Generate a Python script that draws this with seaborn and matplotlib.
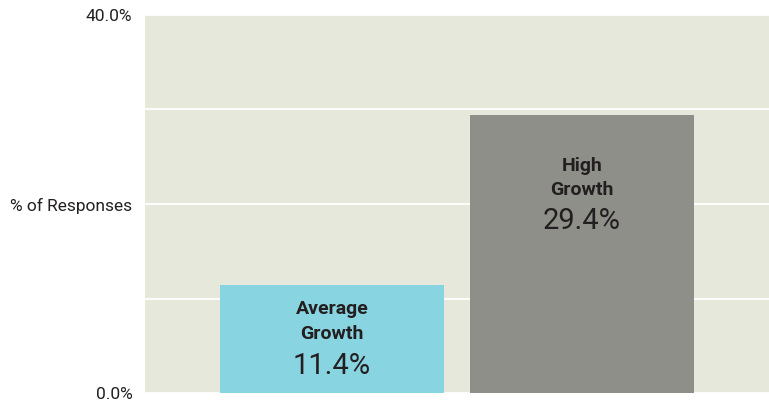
import numpy as np
import pandas as pd
import matplotlib
matplotlib.use("Agg")
import matplotlib.pyplot as plt
import seaborn as sns

# data
groups = ["Average\nGrowth", "High\nGrowth"]
shares = [11.4, 29.4]
bar_colors = ["#88d4e1", "#8f8f89"]
tick_values = [0, 10, 20, 30, 40]
tick_labels = ["0.0%", "", "% of Responses", "", "40.0%"]

df = pd.DataFrame({"group": groups, "share": shares})

sns.set_theme(style="white")
plt.rcParams["font.family"] = ["Roboto", "DejaVu Sans"]

fig, ax = plt.subplots(figsize=(7.69, 4.08), dpi=100)
fig.subplots_adjust(left=145 / 769, right=1.0, top=1 - 15 / 408, bottom=1 - 393 / 408)

ax.set_facecolor("#e7e8dc")
sns.barplot(data=df, x="group", y="share", hue="group", palette=bar_colors,
            saturation=1, width=0.896, legend=False, ax=ax, zorder=3)
for patch in ax.patches:
    patch.set_linewidth(0)

# labels inside the bars (offsets in points below the bar top)
name_drop = [26, 45]
value_drop = [58, 76]
for i, (name, val) in enumerate(zip(groups, shares)):
    ax.annotate(name, xy=(i, val), xytext=(0, -name_drop[i]), textcoords="offset points",
                ha="center", va="center", fontsize=14, fontweight="bold",
                color="#231f20", linespacing=1.45)
    ax.annotate(f"{val:.1f}%", xy=(i, val), xytext=(0, -value_drop[i]),
                textcoords="offset points", ha="center", va="center",
                fontsize=21, fontweight="normal", color="#231f20")

ax.set_ylim(0, 40)
ax.set_xlim(-0.748, 1.748)
ax.set_yticks(tick_values)
ax.set_yticklabels(tick_labels, fontsize=12.5, color="#231f20")
ax.tick_params(axis="y", length=0, pad=9)
ax.set_xticks([])
ax.set_xlabel("")
ax.set_ylabel("")
ax.grid(axis="y", color="white", linewidth=1.3, zorder=0)
sns.despine(ax=ax, left=True, bottom=True, top=True, right=True)

fig.savefig("out.png", dpi=100)
